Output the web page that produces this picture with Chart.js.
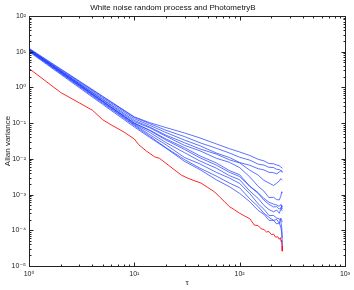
<!DOCTYPE html>
<html>
<head>
<meta charset="utf-8">
<script src="https://cdn.jsdelivr.net/npm/chart.js@4/dist/chart.umd.min.js"></script>
<style>
  body { margin: 0; background: #fff; }
  canvas { display: block; }
</style>
</head>
<body>
<canvas id="allan" width="354" height="290"></canvas>
<script>
// tau grid of the blue runs (PhotometryB) and of the red run (white noise)
var tauBlue = [1, 5, 8, 10, 14, 20, 30, 42, 60, 80, 100, 125, 150, 170, 190, 210, 225, 238, 246, 251, 254];
var tauRed = [1, 2, 3, 4, 5, 6, 7, 8, 10, 11, 13, 15.6, 17.4, 21, 25, 28, 32, 37, 43, 50, 58, 65, 72, 80, 90, 100,
  112, 125, 138, 150, 160, 170, 180, 190, 200, 210, 220, 230, 238, 244, 248, 251, 253, 254];

var blueA = [12.5, 0.568, 0.23, 0.15, 0.103, 0.075, 0.053, 0.0385, 0.0262, 0.0193, 0.0156, 0.0124, 0.0097, 0.0088, 0.0074, 0.0073, 0.0067, 0.0065, 0.0058, 0.0057, 0.0054];
var blueB = [12, 0.547, 0.222, 0.145, 0.097, 0.063, 0.042, 0.0282, 0.0198, 0.0146, 0.0111, 0.0092, 0.0071, 0.0067, 0.0058, 0.0057, 0.0051, 0.005, 0.0047, 0.0046, 0.0044];
var blueC = [11.5, 0.509, 0.205, 0.133, 0.087, 0.0545, 0.0335, 0.0232, 0.0146, 0.0109, 0.0079, 0.0066, 0.0053, 0.0049, 0.0042, 0.0041, 0.0038, 0.0043, 0.0047, 0.0045, 0.0041];
var blueD = [11, 0.468, 0.186, 0.12, 0.078, 0.046, 0.0282, 0.019, 0.0136, 0.0094, 0.0077, 0.0048, 0.0035, 0.0025, 0.0021, 0.0018, 0.0021, 0.0024, 0.0028, 0.0026, 0.0025];
var blueE = [11.8, 0.449, 0.173, 0.11, 0.074, 0.043, 0.0238, 0.0168, 0.0104, 0.008, 0.0057, 0.0031, 0.0017, 0.00125, 0.00082, 0.00084, 0.00072, 0.00071, 0.0009, 0.0012, 0.0011];
var blueF = [10.5, 0.406, 0.157, 0.1, 0.064, 0.036, 0.0205, 0.0121, 0.0077, 0.0047, 0.0036, 0.0017, 0.00108, 0.0007, 0.00053, 0.00045, 0.00046, 0.00039, 0.00043, 0.00037, 0.00035];
var blueG = [12, 0.407, 0.152, 0.095, 0.055, 0.0285, 0.0149, 0.0087, 0.0055, 0.0034, 0.0026, 0.00125, 0.00078, 0.0005, 0.00038, 0.00033, 0.00037, 0.0003, 0.00039, 0.0005, 0.00045];
var blueH = [11, 0.382, 0.143, 0.09, 0.0476, 0.0247, 0.0109, 0.0072, 0.0042, 0.0029, 0.00205, 0.00106, 0.00055, 0.00039, 0.00026, 0.00026, 0.00022, 0.00021, 0.00018, 0.00012, 0.000035];
var blueI = [10.5, 0.362, 0.136, 0.085, 0.0431, 0.0205, 0.0095, 0.0055, 0.0033, 0.0021, 0.00155, 0.00076, 0.00046, 0.0003, 0.00023, 0.00019, 0.0002, 0.00016, 0.00022, 0.00019, 0.00017];
var blueJ = [10, 0.336, 0.125, 0.078, 0.0399, 0.0199, 0.0085, 0.005, 0.0026, 0.00166, 0.00108, 0.00063, 0.00036, 0.00028, 0.00019, 0.00019, 0.00015, 0.00016, 0.00012, 0.00009, 0.00006];
var blueK = [11.3, 0.415, 0.158, 0.1, 0.062, 0.0335, 0.0183, 0.0107, 0.0067, 0.0042, 0.0032, 0.0017, 0.00113, 0.00078, 0.00061, 0.00054, 0.00051, 0.00047, 0.00053, 0.00046, 0.0004];
var blueRuns = [blueA, blueB, blueC, blueD, blueE, blueF, blueG, blueH, blueI, blueJ, blueK];

var red = [3.4, 0.72, 0.37, 0.23, 0.125, 0.09, 0.07, 0.056, 0.036, 0.025, 0.0166, 0.0114, 0.0103, 0.0067, 0.0045, 0.0035,
  0.0029, 0.00245, 0.0021, 0.00157, 0.00118, 0.00084, 0.00063, 0.00046, 0.00037, 0.0003, 0.00025, 0.00021, 0.00014,
  0.000135, 0.00011, 0.000105, 0.00009, 0.000092, 0.000076, 0.000078, 0.000064, 0.000066, 0.000056, 0.000062,
  0.000048, 0.000052, 0.000036, 0.000026];

var xTicks = [1, 10, 100, 1000];
var yTicks = [1e-5, 1e-4, 1e-3, 1e-2, 1e-1, 1, 10, 100];
var sup = { '-': '\u207B', '0': '\u2070', '1': '\u00B9', '2': '\u00B2', '3': '\u00B3', '4': '\u2074', '5': '\u2075' };

function powLabel(v) {
  var e = String(Math.round(Math.log10(v)));
  var s = '';
  for (var i = 0; i < e.length; i++) s += sup[e[i]];
  return '10' + s;
}

function pts(xs, ys) {
  var out = [];
  for (var i = 0; i < xs.length; i++) out.push({ x: xs[i], y: ys[i] });
  return out;
}

var datasets = [];
for (var b = 0; b < blueRuns.length; b++) {
  datasets.push({
    data: pts(tauBlue, blueRuns[b]),
    borderColor: 'rgba(30,60,255,0.72)',
    borderWidth: 1,
    pointRadius: 0,
    tension: 0
  });
}
datasets.push({
  data: pts(tauRed, red),
  borderColor: 'rgba(255,0,0,0.85)',
  borderWidth: 1,
  pointRadius: 0,
  tension: 0
});

// matlab style box with inward ticks on every side
var boxTicks = {
  id: 'boxTicks',
  afterDatasetsDraw: function(chart) {
    var ctx = chart.ctx, a = chart.chartArea;
    var xs = chart.scales.x, ys = chart.scales.y;
    var L = Math.round(a.left) + 0.5, R = Math.round(a.right) + 0.5;
    var T = Math.round(a.top) + 0.5, B = Math.round(a.bottom) + 0.5;
    ctx.save();
    ctx.strokeStyle = '#222';
    ctx.lineWidth = 1;
    ctx.beginPath();
    for (var d = 0; d < 3; d++) {
      for (var k = 1; k < 10; k++) {
        var px = Math.round(xs.getPixelForValue(k * Math.pow(10, d))) + 0.5;
        var len = k == 1 ? 4 : 2;
        ctx.moveTo(px, B); ctx.lineTo(px, B - len);
        ctx.moveTo(px, T); ctx.lineTo(px, T + len);
      }
    }
    for (var d2 = -5; d2 < 2; d2++) {
      for (var k2 = 1; k2 < 10; k2++) {
        var py = Math.round(ys.getPixelForValue(k2 * Math.pow(10, d2))) + 0.5;
        var len2 = k2 == 1 ? 4 : 2;
        ctx.moveTo(L, py); ctx.lineTo(L + len2, py);
        ctx.moveTo(R, py); ctx.lineTo(R - len2, py);
      }
    }
    ctx.stroke();
    ctx.strokeRect(L, T, R - L, B - T);
    ctx.restore();
  }
};

var tickFont = { family: 'Liberation Sans, DejaVu Sans, sans-serif', size: 7 };

new Chart(document.getElementById('allan'), {
  type: 'line',
  data: { datasets: datasets },
  plugins: [boxTicks],
  options: {
    responsive: false,
    animation: false,
    layout: { padding: { left: 0, right: 8, top: 0, bottom: 0 } },
    plugins: {
      legend: { display: false },
      tooltip: { enabled: false },
      title: {
        display: true,
        text: 'White noise random process and PhotometryB',
        color: '#111',
        font: { family: 'Liberation Sans, DejaVu Sans, sans-serif', size: 8, weight: 'normal' },
        padding: { top: 3, bottom: 3.4 }
      }
    },
    scales: {
      x: {
        type: 'logarithmic',
        min: 1,
        max: 1000,
        afterFit: function(s) { s.height = 24; },
        afterBuildTicks: function(s) { s.ticks = xTicks.map(function(v) { return { value: v }; }); },
        grid: { display: false, drawTicks: false },
        border: { display: false },
        ticks: {
          color: '#222',
          font: tickFont,
          padding: 4,
          maxRotation: 0,
          autoSkip: false,
          callback: function(v) { return powLabel(v); }
        },
        title: {
          display: true,
          text: '\u03C4',
          color: '#222',
          font: { family: 'Liberation Sans, DejaVu Sans, sans-serif', size: 8 },
          padding: { top: 0, bottom: 2 }
        }
      },
      y: {
        type: 'logarithmic',
        min: 1e-5,
        max: 100,
        afterFit: function(s) { s.width = 29; },
        afterBuildTicks: function(s) { s.ticks = yTicks.map(function(v) { return { value: v }; }); },
        grid: { display: false, drawTicks: false },
        border: { display: false },
        ticks: {
          color: '#222',
          font: tickFont,
          padding: 3,
          autoSkip: false,
          callback: function(v) { return powLabel(v); }
        },
        title: {
          display: true,
          text: 'Allan variance',
          color: '#222',
          font: { family: 'Liberation Sans, DejaVu Sans, sans-serif', size: 8 },
          padding: { top: 3, bottom: 0 }
        }
      }
    }
  }
});
</script>
</body>
</html>
